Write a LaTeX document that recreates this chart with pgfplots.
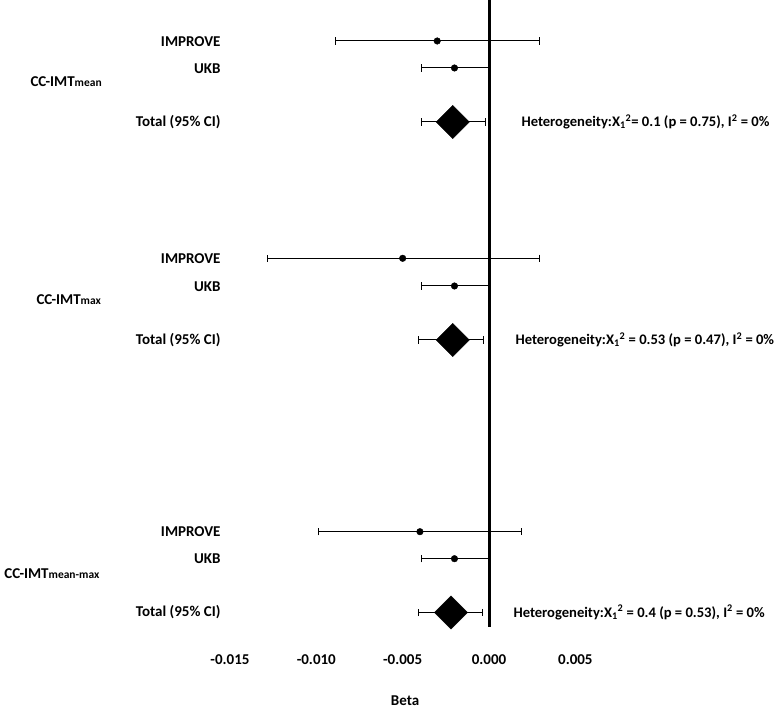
\documentclass[border=0pt]{standalone}
\usepackage{fontspec}
\setmainfont{Carlito}
\usepackage{pgfplots}
\pgfplotsset{compat=1.18}
\usepackage{pgfplotstable}

% study rows: x, y(row), minus error, plus error
\pgfplotstableread{
x y em ep
-0.0030 667.0 0.0059 0.0059
-0.0020 640.0 0.0019 0.0020
-0.0050 449.7 0.0078 0.0079
-0.0020 422.0 0.0019 0.0020
-0.0040 176.3 0.0059 0.0059
-0.0020 149.3 0.0019 0.0020
}\studies
% pooled rows
\pgfplotstableread{
x y em ep
-0.0021 586.0 0.0018 0.0019
-0.0021 368.0 0.0020 0.0018
-0.0022 95.5 0.0019 0.0018
}\totals

\newcommand{\F}{\fontsize{15}{18}\selectfont\bfseries}
\newcommand{\Fh}{\fontsize{14.6}{18}\selectfont\bfseries}
\newcommand{\Fs}{\fontsize{11.5}{13}\selectfont\bfseries}

\begin{document}
\begin{tikzpicture}
\begin{axis}[
  name=ax,
  width=778pt, height=708pt, scale only axis,
  xmin=-0.028315, xmax=0.016734, ymin=0, ymax=708,
  axis line style={draw=none},
  ytick=\empty,
  xtick={-0.015,-0.01,-0.005,0,0.005},
  xticklabels={-0.015,-0.010,-0.005,0.000,0.005},
  scaled x ticks=false,
  major tick length=0pt,
  xticklabel style={font=\F, anchor=center, yshift=48pt},
  clip=false,
  every node/.style={inner sep=0pt},
]
% zero line
\addplot[black, line width=3pt, forget plot] coordinates {(0,81) (0,708)};
% individual studies
\addplot[black, only marks, mark=*, mark size=3.3pt,
  error bars/.cd, x dir=both, x explicit,
  error bar style={line width=1pt, black},
  error mark=|, error mark options={black, line width=1pt, mark size=3.6pt}]
  table[x=x, y=y, x error minus=em, x error plus=ep] {\studies};
% pooled estimates
\addplot[black, only marks, mark=square*, mark size=11.8pt, mark options={rotate=45},
  error bars/.cd, x dir=both, x explicit,
  error bar style={line width=1pt, black},
  error mark=|, error mark options={black, line width=1pt, mark size=3.6pt, rotate=0}]
  table[x=x, y=y, x error minus=em, x error plus=ep] {\totals};

% row labels
\node[anchor=east, font=\F] at (axis cs:-0.015345,666.5) {IMPROVE};
\node[anchor=east, font=\F] at (axis cs:-0.015345,639.5) {UKB};
\node[anchor=east, font=\F] at (axis cs:-0.015345,585.5) {Total (95\% CI)};
\node[anchor=east, font=\F] at (axis cs:-0.015345,449.5) {IMPROVE};
\node[anchor=east, font=\F] at (axis cs:-0.015345,421.5) {UKB};
\node[anchor=east, font=\F] at (axis cs:-0.015345,367.5) {Total (95\% CI)};
\node[anchor=east, font=\F] at (axis cs:-0.015345,176.5) {IMPROVE};
\node[anchor=east, font=\F] at (axis cs:-0.015345,149.0) {UKB};
\node[anchor=east, font=\F] at (axis cs:-0.015345,95.5) {Total (95\% CI)};

% group labels
\node[anchor=west, font=\F] at (axis cs:-0.026752,626.3) {CC-IMT{\Fs mean}};
\node[anchor=west, font=\F] at (axis cs:-0.026404,408.0) {CC-IMT{\Fs max}};
\node[anchor=west, font=\F] at (axis cs:-0.028260,134.7) {CC-IMT{\Fs mean-max}};

% heterogeneity
\node[anchor=west, font=\Fh] at (axis cs:0.001679,586.0) {Heterogeneity:X\textsubscript{1}\textsuperscript{2}= 0.1 (p = 0.75), I\textsuperscript{2} = 0\%};
\node[anchor=west, font=\Fh] at (axis cs:0.001332,368.0) {Heterogeneity:X\textsubscript{1}\textsuperscript{2} = 0.53 (p = 0.47), I\textsuperscript{2} = 0\%};
\node[anchor=west, font=\Fh] at (axis cs:0.001216,95.5) {Heterogeneity:X\textsubscript{1}\textsuperscript{2} = 0.4 (p = 0.53), I\textsuperscript{2} = 0\%};

% axis title
\node[font=\F] at (axis cs:-0.00486,7.5) {Beta};
\end{axis}
\pgfresetboundingbox
\path (ax.south west) rectangle (ax.north east);
\end{tikzpicture}
\end{document}
